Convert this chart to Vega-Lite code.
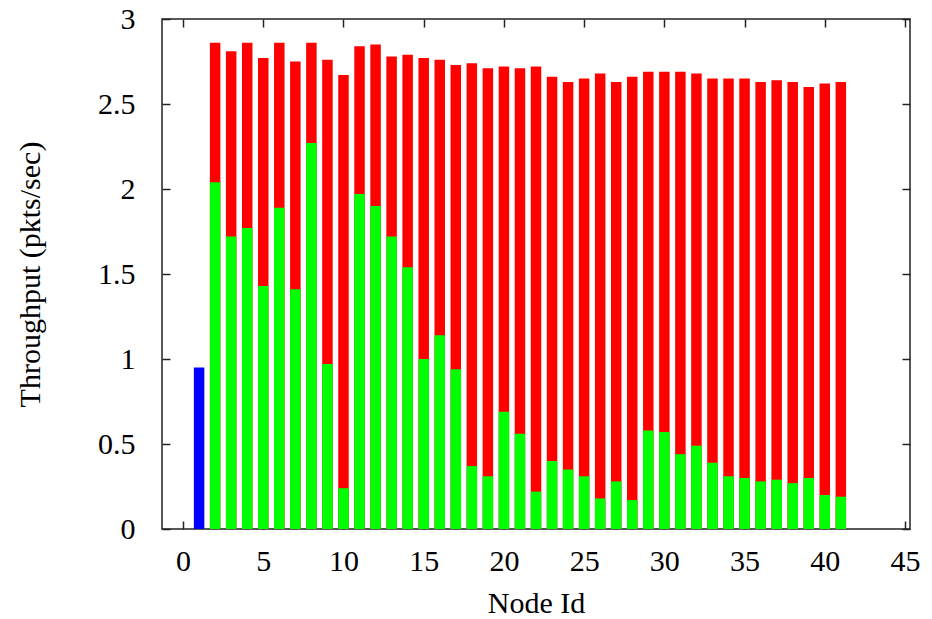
{
  "$schema": "https://vega.github.io/schema/vega-lite/v6.json",
  "autosize": "none",
  "width": 748,
  "height": 510,
  "padding": {"left": 162, "top": 19, "right": 22, "bottom": 90},
  "background": "white",
  "config": {
    "view": {"stroke": "#222222", "strokeWidth": 1.5},
    "axis": {
      "grid": false,
      "domain": false,
      "labelFont": "Liberation Serif",
      "labelFontSize": 30,
      "labelColor": "#000000",
      "titleFont": "Liberation Serif",
      "titleFontSize": 30,
      "titleFontWeight": "normal",
      "titleColor": "#000000",
      "tickColor": "#222222",
      "tickWidth": 1.5,
      "tickSize": -8
    }
  },
  "data": {
    "values": [
      {"node": 1, "source": 0.95},
      {"node": 2, "total": 2.86, "own": 2.04},
      {"node": 3, "total": 2.81, "own": 1.72},
      {"node": 4, "total": 2.86, "own": 1.77},
      {"node": 5, "total": 2.77, "own": 1.43},
      {"node": 6, "total": 2.86, "own": 1.89},
      {"node": 7, "total": 2.75, "own": 1.41},
      {"node": 8, "total": 2.86, "own": 2.27},
      {"node": 9, "total": 2.76, "own": 0.97},
      {"node": 10, "total": 2.67, "own": 0.24},
      {"node": 11, "total": 2.84, "own": 1.97},
      {"node": 12, "total": 2.85, "own": 1.9},
      {"node": 13, "total": 2.78, "own": 1.72},
      {"node": 14, "total": 2.79, "own": 1.54},
      {"node": 15, "total": 2.77, "own": 1.0},
      {"node": 16, "total": 2.76, "own": 1.14},
      {"node": 17, "total": 2.73, "own": 0.94},
      {"node": 18, "total": 2.74, "own": 0.37},
      {"node": 19, "total": 2.71, "own": 0.31},
      {"node": 20, "total": 2.72, "own": 0.69},
      {"node": 21, "total": 2.71, "own": 0.56},
      {"node": 22, "total": 2.72, "own": 0.22},
      {"node": 23, "total": 2.66, "own": 0.4},
      {"node": 24, "total": 2.63, "own": 0.35},
      {"node": 25, "total": 2.65, "own": 0.31},
      {"node": 26, "total": 2.68, "own": 0.18},
      {"node": 27, "total": 2.63, "own": 0.28},
      {"node": 28, "total": 2.66, "own": 0.17},
      {"node": 29, "total": 2.69, "own": 0.58},
      {"node": 30, "total": 2.69, "own": 0.57},
      {"node": 31, "total": 2.69, "own": 0.44},
      {"node": 32, "total": 2.68, "own": 0.49},
      {"node": 33, "total": 2.65, "own": 0.39},
      {"node": 34, "total": 2.65, "own": 0.31},
      {"node": 35, "total": 2.65, "own": 0.3},
      {"node": 36, "total": 2.63, "own": 0.28},
      {"node": 37, "total": 2.64, "own": 0.29},
      {"node": 38, "total": 2.63, "own": 0.27},
      {"node": 39, "total": 2.6, "own": 0.3},
      {"node": 40, "total": 2.62, "own": 0.2},
      {"node": 41, "total": 2.63, "own": 0.19}
    ]
  },
  "layer": [
    {
      "mark": {"type": "bar", "width": 10.5, "color": "#ff0000"},
      "encoding": {
        "x": {
          "field": "node", "type": "quantitative",
          "scale": {"domain": [-1, 45], "nice": false, "zero": false},
          "axis": {"orient": "bottom", "values": [0, 5, 10, 15, 20, 25, 30, 35, 40, 45], "title": "Node Id", "labelPadding": 25, "titlePadding": 12, "labelFlush": false}
        },
        "y": {
          "field": "total", "type": "quantitative",
          "scale": {"domain": [0, 3], "nice": false},
          "axis": {"orient": "left", "values": [0, 0.5, 1, 1.5, 2, 2.5, 3], "format": "~g", "title": "Throughput (pkts/sec)", "labelPadding": 35, "titlePadding": 52, "labelFlush": false}
        }
      }
    },
    {
      "mark": {"type": "bar", "width": 10.5, "color": "#00ff00"},
      "encoding": {
        "x": {"field": "node", "type": "quantitative", "axis": null},
        "y": {"field": "own", "type": "quantitative", "axis": null}
      }
    },
    {
      "mark": {"type": "bar", "width": 10.5, "color": "#0000ff"},
      "encoding": {
        "x": {"field": "node", "type": "quantitative", "axis": null},
        "y": {"field": "source", "type": "quantitative", "axis": null}
      }
    },
    {
      "mark": {"type": "bar", "width": 10.5, "opacity": 0},
      "encoding": {
        "x": {"field": "node", "type": "quantitative", "axis": {"orient": "top", "values": [0, 5, 10, 15, 20, 25, 30, 35, 40, 45], "labels": false, "title": null}},
        "y": {"field": "total", "type": "quantitative", "axis": {"orient": "right", "values": [0, 0.5, 1, 1.5, 2, 2.5, 3], "labels": false, "title": null}}
      }
    }
  ],
  "resolve": {"axis": {"x": "independent", "y": "independent"}}
}
